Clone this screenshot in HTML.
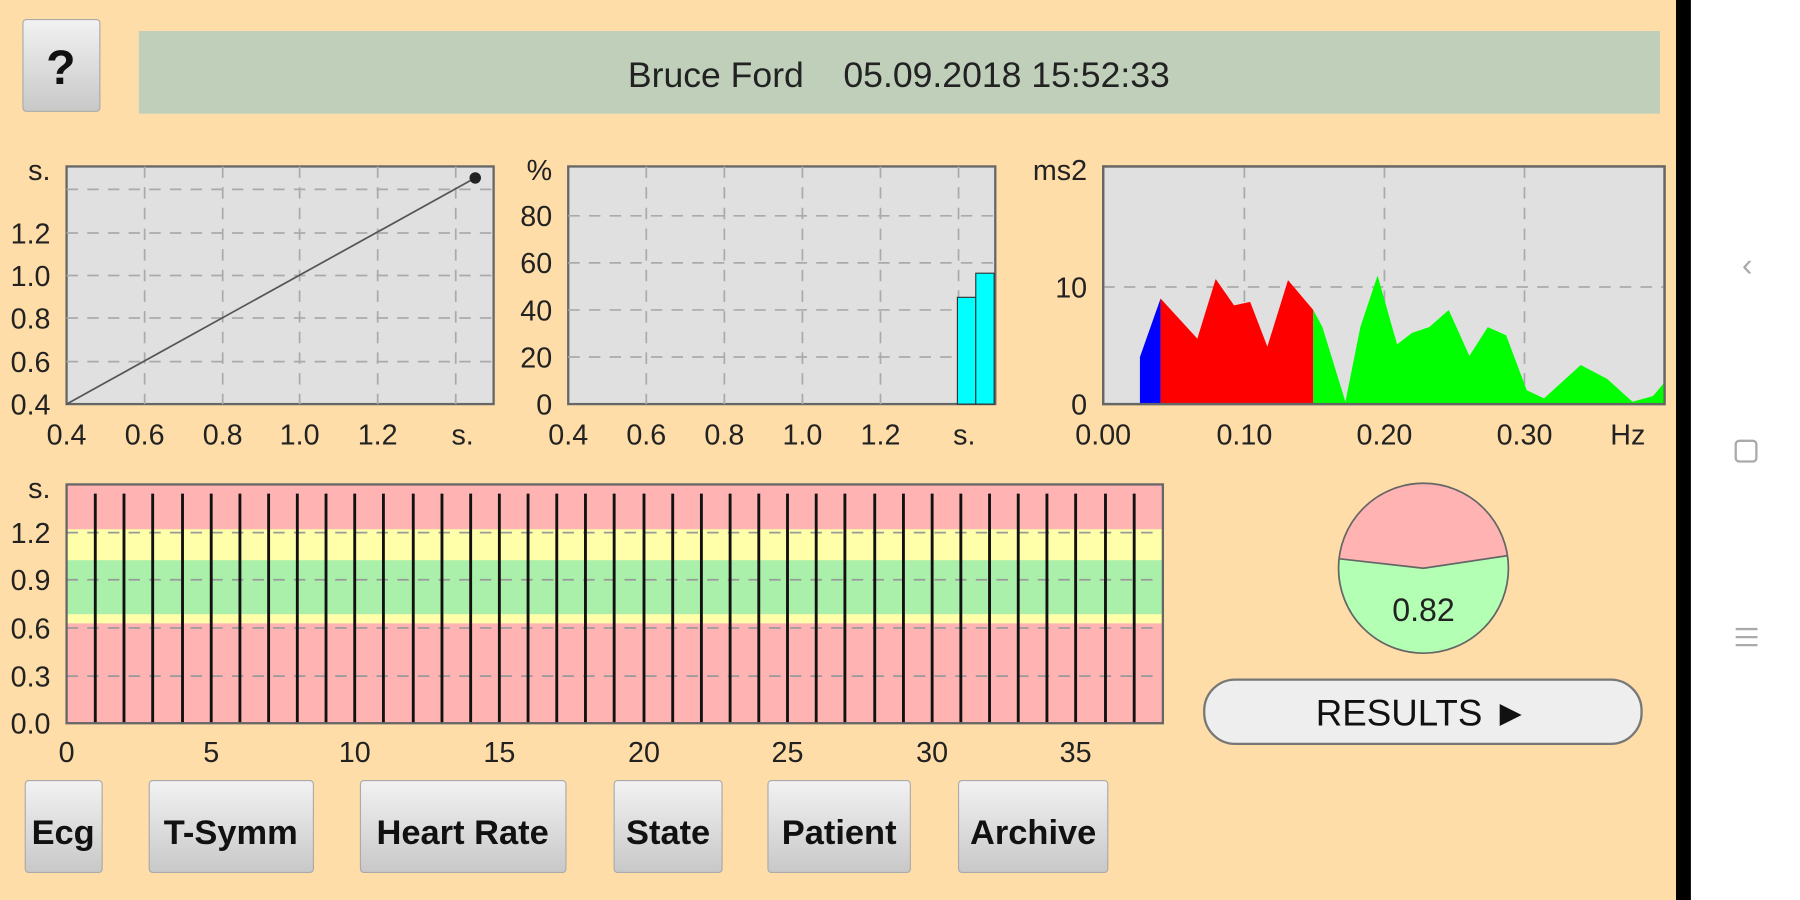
<!DOCTYPE html>
<html><head><meta charset="utf-8"><style>
html,body{margin:0;padding:0;width:1800px;height:900px;overflow:hidden;background:#fff}
svg{display:block}
text{font-family:"Liberation Sans",sans-serif;fill:#222}
.t{font-size:25px}
.b{font-weight:bold;font-size:30px;fill:#111}
</style></head><body>
<svg width="1800" height="900" viewBox="0 0 1568 784" preserveAspectRatio="none" xmlns="http://www.w3.org/2000/svg">
<defs>
<linearGradient id="btn" x1="0" y1="0" x2="0" y2="1"><stop offset="0" stop-color="#f2f2f2"/><stop offset="1" stop-color="#c8c8c8"/></linearGradient>
<clipPath id="cc"><circle cx="1240" cy="495" r="74"/></clipPath>
</defs>
<rect x="0" y="0" width="1460" height="784" fill="#FEDDA8"/>
<rect x="1460" y="0" width="13" height="784" fill="#000"/>
<rect x="1473" y="0" width="95" height="784" fill="#fff"/>
<text x="1522" y="240" font-size="28" style="fill:#aaa" text-anchor="middle">‹</text>
<rect x="1512" y="384" width="18" height="18" rx="3" fill="none" stroke="#aaa" stroke-width="2"/>
<g stroke="#aaa" stroke-width="2"><line x1="1512" y1="548" x2="1531" y2="548"/><line x1="1512" y1="555" x2="1531" y2="555"/><line x1="1512" y1="562" x2="1531" y2="562"/></g>

<rect x="20" y="17" width="67" height="80" rx="3" fill="url(#btn)" stroke="#aaa"/>
<text x="53" y="73" text-anchor="middle" style="font-weight:bold;font-size:42px;fill:#111">?</text>
<rect x="121" y="27" width="1325" height="72" fill="#BFCFBA"/>
<text x="783" y="76" text-anchor="middle" style="font-size:31px" xml:space="preserve">Bruce Ford    05.09.2018 15:52:33</text>

<!-- chart 1 -->
<rect x="58" y="145" width="372" height="207" fill="#e0e0e0" stroke="#666" stroke-width="2"/>
<g stroke="#aaa" stroke-width="1.5" stroke-dasharray="10,8">
<line x1="58" y1="165" x2="430" y2="165"/><line x1="58" y1="203" x2="430" y2="203"/><line x1="58" y1="240" x2="430" y2="240"/><line x1="58" y1="277" x2="430" y2="277"/><line x1="58" y1="315" x2="430" y2="315"/>
<line x1="126" y1="145" x2="126" y2="352"/><line x1="194" y1="145" x2="194" y2="352"/><line x1="261" y1="145" x2="261" y2="352"/><line x1="329" y1="145" x2="329" y2="352"/><line x1="397" y1="145" x2="397" y2="352"/>
</g>
<line x1="58" y1="352" x2="414" y2="155" stroke="#555" stroke-width="1.5"/>
<circle cx="414" cy="155" r="5" fill="#222"/>
<g text-anchor="end">
<text x="44" y="157" class="t">s.</text><text x="44" y="212" class="t">1.2</text><text x="44" y="249" class="t">1.0</text><text x="44" y="286" class="t">0.8</text><text x="44" y="324" class="t">0.6</text><text x="44" y="361" class="t">0.4</text>
</g>
<g text-anchor="middle">
<text x="58" y="387" class="t">0.4</text><text x="126" y="387" class="t">0.6</text><text x="194" y="387" class="t">0.8</text><text x="261" y="387" class="t">1.0</text><text x="329" y="387" class="t">1.2</text><text x="403" y="387" class="t">s.</text>
</g>

<!-- chart 2 -->
<rect x="495" y="145" width="372" height="207" fill="#e0e0e0" stroke="#666" stroke-width="2"/>
<g stroke="#aaa" stroke-width="1.5" stroke-dasharray="10,8">
<line x1="495" y1="188" x2="867" y2="188"/><line x1="495" y1="229" x2="867" y2="229"/><line x1="495" y1="270" x2="867" y2="270"/><line x1="495" y1="311" x2="867" y2="311"/>
<line x1="563" y1="145" x2="563" y2="352"/><line x1="631" y1="145" x2="631" y2="352"/><line x1="699" y1="145" x2="699" y2="352"/><line x1="767" y1="145" x2="767" y2="352"/><line x1="835" y1="145" x2="835" y2="352"/>
</g>
<rect x="834" y="259" width="16" height="93" fill="#00ffff" stroke="#333" stroke-width="1"/>
<rect x="850" y="238" width="16" height="114" fill="#00ffff" stroke="#333" stroke-width="1"/>
<g text-anchor="end">
<text x="481" y="157" class="t">%</text><text x="481" y="197" class="t">80</text><text x="481" y="238" class="t">60</text><text x="481" y="279" class="t">40</text><text x="481" y="320" class="t">20</text><text x="481" y="361" class="t">0</text>
</g>
<g text-anchor="middle">
<text x="495" y="387" class="t">0.4</text><text x="563" y="387" class="t">0.6</text><text x="631" y="387" class="t">0.8</text><text x="699" y="387" class="t">1.0</text><text x="767" y="387" class="t">1.2</text><text x="840" y="387" class="t">s.</text>
</g>

<!-- chart 3 -->
<rect x="961" y="145" width="489" height="207" fill="#e0e0e0" stroke="#666" stroke-width="2"/>
<g stroke="#aaa" stroke-width="1.5" stroke-dasharray="10,8">
<line x1="961" y1="250" x2="1450" y2="250"/>
<line x1="1084" y1="145" x2="1084" y2="352"/><line x1="1206" y1="145" x2="1206" y2="352"/><line x1="1328" y1="145" x2="1328" y2="352"/>
</g>
<polygon points="993,352 993,311 1011,260 1011,352" fill="#0000ff"/>
<polygon points="1011,352 1011,260 1043,295 1059,243 1075,266 1089,263 1104,302 1122,244 1144,270 1144,352" fill="#ff0000"/>
<polygon points="1144,352 1144,270 1152,285 1172,350 1185,285 1200,240 1217,300 1230,290 1245,285 1262,270 1280,310 1296,285 1312,292 1330,340 1345,347 1377,318 1400,330 1422,350 1440,345 1450,333 1450,352" fill="#00ff00"/>
<rect x="961" y="145" width="489" height="207" fill="none" stroke="#666" stroke-width="2"/>
<g text-anchor="end">
<text x="947" y="157" class="t">ms2</text><text x="947" y="259" class="t">10</text><text x="947" y="361" class="t">0</text>
</g>
<g text-anchor="middle">
<text x="961" y="387" class="t">0.00</text><text x="1084" y="387" class="t">0.10</text><text x="1206" y="387" class="t">0.20</text><text x="1328" y="387" class="t">0.30</text><text x="1418" y="387" class="t">Hz</text>
</g>

<!-- chart 4 -->
<rect x="58" y="422" width="955" height="208" fill="#FFB3B3"/>
<rect x="58" y="461" width="955" height="82" fill="#FFFFAA"/>
<rect x="58" y="488" width="955" height="47" fill="#AAF0AA"/>
<g stroke="#999" stroke-width="1.5" stroke-dasharray="10,8">
<line x1="58" y1="505" x2="1013" y2="505"/><line x1="58" y1="547" x2="1013" y2="547"/><line x1="58" y1="589" x2="1013" y2="589"/><line x1="58" y1="464" x2="1013" y2="464"/>
</g>
<g stroke="#111" stroke-width="2.5">
<line x1="83" y1="430" x2="83" y2="630"/><line x1="108" y1="430" x2="108" y2="630"/><line x1="133" y1="430" x2="133" y2="630"/><line x1="159" y1="430" x2="159" y2="630"/><line x1="184" y1="430" x2="184" y2="630"/><line x1="209" y1="430" x2="209" y2="630"/><line x1="234" y1="430" x2="234" y2="630"/><line x1="259" y1="430" x2="259" y2="630"/><line x1="284" y1="430" x2="284" y2="630"/><line x1="309" y1="430" x2="309" y2="630"/><line x1="334" y1="430" x2="334" y2="630"/><line x1="360" y1="430" x2="360" y2="630"/><line x1="385" y1="430" x2="385" y2="630"/><line x1="410" y1="430" x2="410" y2="630"/><line x1="435" y1="430" x2="435" y2="630"/><line x1="460" y1="430" x2="460" y2="630"/><line x1="485" y1="430" x2="485" y2="630"/><line x1="510" y1="430" x2="510" y2="630"/><line x1="535" y1="430" x2="535" y2="630"/><line x1="561" y1="430" x2="561" y2="630"/><line x1="586" y1="430" x2="586" y2="630"/><line x1="611" y1="430" x2="611" y2="630"/><line x1="636" y1="430" x2="636" y2="630"/><line x1="661" y1="430" x2="661" y2="630"/><line x1="686" y1="430" x2="686" y2="630"/><line x1="711" y1="430" x2="711" y2="630"/><line x1="736" y1="430" x2="736" y2="630"/><line x1="762" y1="430" x2="762" y2="630"/><line x1="787" y1="430" x2="787" y2="630"/><line x1="812" y1="430" x2="812" y2="630"/><line x1="837" y1="430" x2="837" y2="630"/><line x1="862" y1="430" x2="862" y2="630"/><line x1="887" y1="430" x2="887" y2="630"/><line x1="912" y1="430" x2="912" y2="630"/><line x1="937" y1="430" x2="937" y2="630"/><line x1="963" y1="430" x2="963" y2="630"/><line x1="988" y1="430" x2="988" y2="630"/>
</g>
<rect x="58" y="422" width="955" height="208" fill="none" stroke="#666" stroke-width="2"/>
<g text-anchor="end">
<text x="44" y="434" class="t">s.</text><text x="44" y="473" class="t">1.2</text><text x="44" y="514" class="t">0.9</text><text x="44" y="556" class="t">0.6</text><text x="44" y="598" class="t">0.3</text><text x="44" y="639" class="t">0.0</text>
</g>
<g text-anchor="middle">
<text x="58" y="664" class="t">0</text><text x="184" y="664" class="t">5</text><text x="309" y="664" class="t">10</text><text x="435" y="664" class="t">15</text><text x="561" y="664" class="t">20</text><text x="686" y="664" class="t">25</text><text x="812" y="664" class="t">30</text><text x="937" y="664" class="t">35</text>
</g>

<!-- gauge -->
<g clip-path="url(#cc)">
<rect x="1160" y="415" width="160" height="160" fill="#FFB3B3"/>
<path d="M1160,486 L1240,495 L1320,483 L1320,580 L1160,580 Z" fill="#B3FFB3" stroke="#666" stroke-width="1.5"/>
</g>
<circle cx="1240" cy="495" r="74" fill="none" stroke="#666" stroke-width="1.5"/>
<text x="1240" y="541" text-anchor="middle" style="font-size:28px">0.82</text>

<rect x="1049" y="592" width="381" height="56" rx="27" fill="#eeeeee" stroke="#777" stroke-width="2"/>
<text x="1239" y="632" text-anchor="middle" style="font-size:32px;fill:#111">RESULTS ►</text>

<!-- buttons -->
<rect x="22" y="680" width="67" height="80" rx="3" fill="url(#btn)" stroke="#aaa"/>
<text x="55" y="735" text-anchor="middle" class="b">Ecg</text>
<rect x="130" y="680" width="143" height="80" rx="3" fill="url(#btn)" stroke="#aaa"/>
<text x="201" y="735" text-anchor="middle" class="b">T-Symm</text>
<rect x="314" y="680" width="179" height="80" rx="3" fill="url(#btn)" stroke="#aaa"/>
<text x="403" y="735" text-anchor="middle" class="b">Heart Rate</text>
<rect x="535" y="680" width="94" height="80" rx="3" fill="url(#btn)" stroke="#aaa"/>
<text x="582" y="735" text-anchor="middle" class="b">State</text>
<rect x="669" y="680" width="124" height="80" rx="3" fill="url(#btn)" stroke="#aaa"/>
<text x="731" y="735" text-anchor="middle" class="b">Patient</text>
<rect x="835" y="680" width="130" height="80" rx="3" fill="url(#btn)" stroke="#aaa"/>
<text x="900" y="735" text-anchor="middle" class="b">Archive</text>
</svg>
</body></html>
